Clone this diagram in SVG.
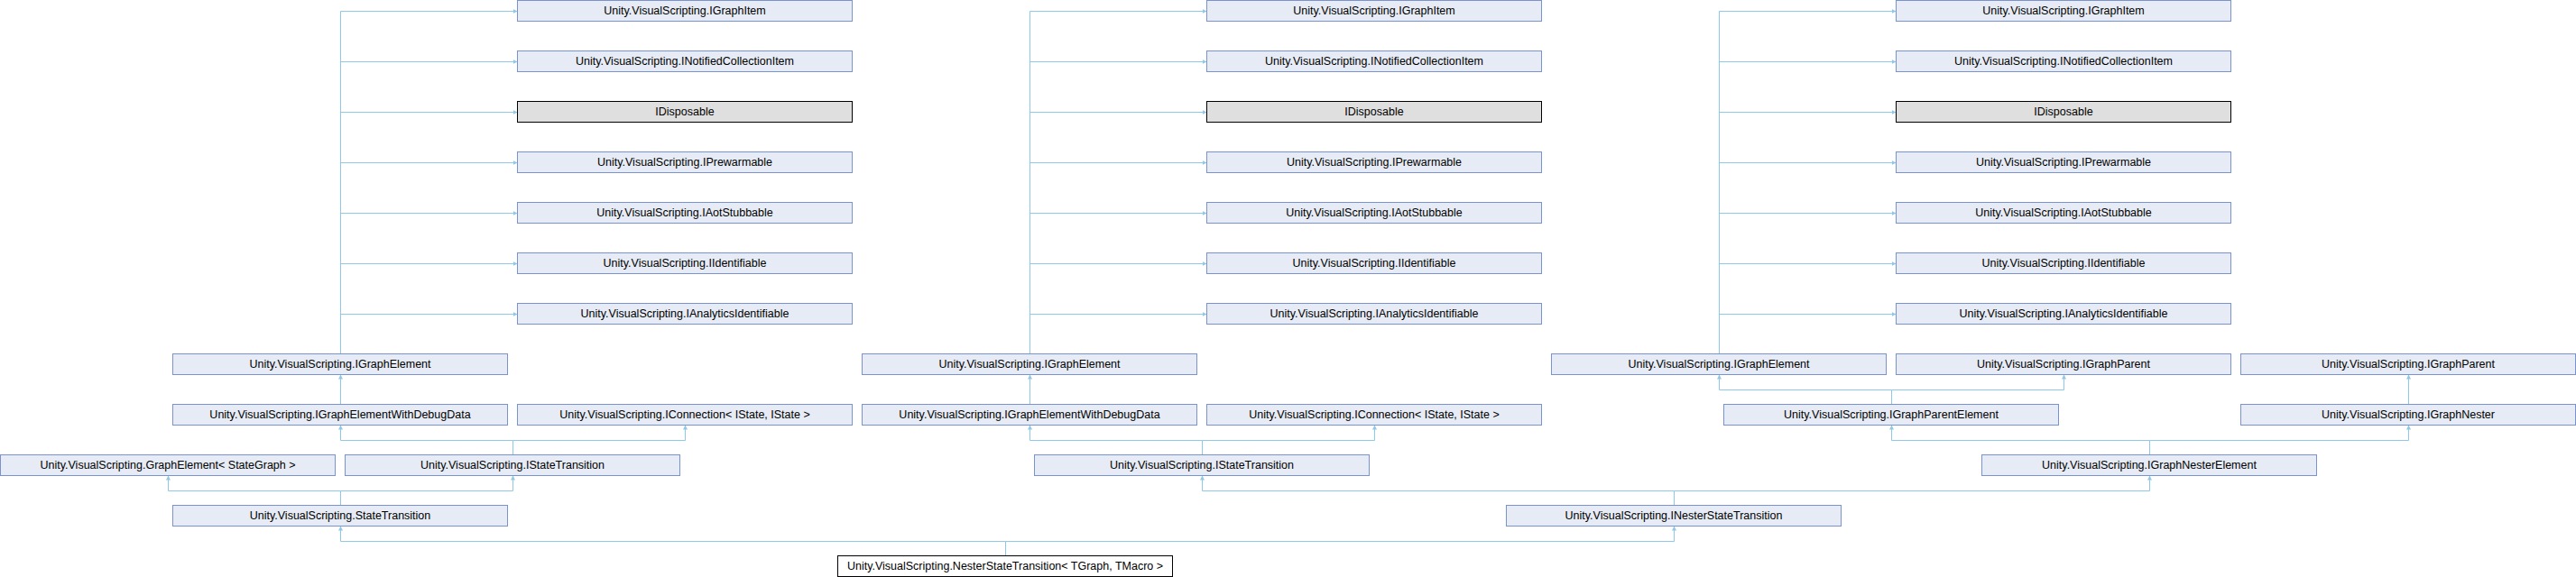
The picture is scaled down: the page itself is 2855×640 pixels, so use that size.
<svg xmlns="http://www.w3.org/2000/svg" width="2855" height="640" viewBox="0 0 2855 640">
<style>
  .bg{fill:#ffffff}
  .n rect{fill:#E6EBF5;stroke:#7B93CB;stroke-width:1}
  .n.ext rect{fill:#DFDFDF;stroke:#000000}
  .n.cur rect{fill:#ffffff;stroke:#000000}
  .n text{font-family:"Liberation Sans",Arial,sans-serif;font-size:12.5px;fill:#000000;text-anchor:middle}
  #connectors path{fill:none;stroke:#8FC9EA;stroke-width:1}
  #connectors path.a{marker-end:url(#arr)}
</style>
<defs>
  <marker id="arr" markerUnits="userSpaceOnUse" markerWidth="6" markerHeight="6" refX="5" refY="2.5" orient="auto">
    <path d="M0,0 L5,2.5 L0,5 z" fill="#8FC9EA"/>
  </marker>
</defs>
<rect class="bg" x="0" y="0" width="2855" height="640"/>

<g id="connectors">
  <!-- group 1 -->
  <path d="M377.5,392.5 V12.5"/>
  <path class="a" d="M377.5,12.5 H573.5"/>
  <path class="a" d="M377.5,68.5 H573.5"/>
  <path class="a" d="M377.5,124.5 H573.5"/>
  <path class="a" d="M377.5,180.5 H573.5"/>
  <path class="a" d="M377.5,236.5 H573.5"/>
  <path class="a" d="M377.5,292.5 H573.5"/>
  <path class="a" d="M377.5,348.5 H573.5"/>
  <path class="a" d="M377.5,448.5 V415.5"/>
  <path d="M568.5,504.5 V488.5"/>
  <path class="a" d="M568.5,488.5 H377.5 V471.5"/>
  <path class="a" d="M568.5,488.5 H759.5 V471.5"/>
  <path d="M377.5,560.5 V544.5"/>
  <path class="a" d="M377.5,544.5 H186.5 V527.5"/>
  <path class="a" d="M377.5,544.5 H568.5 V527.5"/>
  <path d="M1114.5,616.5 V600.5"/>
  <path class="a" d="M1114.5,600.5 H377.5 V583.5"/>
  <path class="a" d="M1114.5,600.5 H1855.5 V583.5"/>
  <!-- group 2 -->
  <path d="M1141.5,392.5 V12.5"/>
  <path class="a" d="M1141.5,12.5 H1337.5"/>
  <path class="a" d="M1141.5,68.5 H1337.5"/>
  <path class="a" d="M1141.5,124.5 H1337.5"/>
  <path class="a" d="M1141.5,180.5 H1337.5"/>
  <path class="a" d="M1141.5,236.5 H1337.5"/>
  <path class="a" d="M1141.5,292.5 H1337.5"/>
  <path class="a" d="M1141.5,348.5 H1337.5"/>
  <path class="a" d="M1141.5,448.5 V415.5"/>
  <path d="M1332.5,504.5 V488.5"/>
  <path class="a" d="M1332.5,488.5 H1141.5 V471.5"/>
  <path class="a" d="M1332.5,488.5 H1523.5 V471.5"/>
  <path d="M1855.5,560.5 V544.5"/>
  <path class="a" d="M1855.5,544.5 H1332.5 V527.5"/>
  <path class="a" d="M1855.5,544.5 H2382.5 V527.5"/>
  <!-- group 3 -->
  <path d="M1905.5,392.5 V12.5"/>
  <path class="a" d="M1905.5,12.5 H2101.5"/>
  <path class="a" d="M1905.5,68.5 H2101.5"/>
  <path class="a" d="M1905.5,124.5 H2101.5"/>
  <path class="a" d="M1905.5,180.5 H2101.5"/>
  <path class="a" d="M1905.5,236.5 H2101.5"/>
  <path class="a" d="M1905.5,292.5 H2101.5"/>
  <path class="a" d="M1905.5,348.5 H2101.5"/>
  <path d="M2096.5,448.5 V432.5"/>
  <path class="a" d="M2096.5,432.5 H1905.5 V415.5"/>
  <path class="a" d="M2096.5,432.5 H2287.5 V415.5"/>
  <path class="a" d="M2669.5,448.5 V415.5"/>
  <path d="M2382.5,504.5 V488.5"/>
  <path class="a" d="M2382.5,488.5 H2096.5 V471.5"/>
  <path class="a" d="M2382.5,488.5 H2669.5 V471.5"/>
</g>

<!-- group 1 nodes -->
<g id="g1_igraphitem" class="n"><rect x="573.5" y="0.5" width="371" height="23"/><text x="759" y="16">Unity.VisualScripting.IGraphItem</text></g>
<g id="g1_inotifiedcollectionitem" class="n"><rect x="573.5" y="56.5" width="371" height="23"/><text x="759" y="72">Unity.VisualScripting.INotifiedCollectionItem</text></g>
<g id="g1_idisposable" class="n ext"><rect x="573.5" y="112.5" width="371" height="23"/><text x="759" y="128">IDisposable</text></g>
<g id="g1_iprewarmable" class="n"><rect x="573.5" y="168.5" width="371" height="23"/><text x="759" y="184">Unity.VisualScripting.IPrewarmable</text></g>
<g id="g1_iaotstubbable" class="n"><rect x="573.5" y="224.5" width="371" height="23"/><text x="759" y="240">Unity.VisualScripting.IAotStubbable</text></g>
<g id="g1_iidentifiable" class="n"><rect x="573.5" y="280.5" width="371" height="23"/><text x="759" y="296">Unity.VisualScripting.IIdentifiable</text></g>
<g id="g1_ianalyticsidentifiable" class="n"><rect x="573.5" y="336.5" width="371" height="23"/><text x="759" y="352">Unity.VisualScripting.IAnalyticsIdentifiable</text></g>
<g id="g1_igraphelement" class="n"><rect x="191.5" y="392.5" width="371" height="23"/><text x="377" y="408">Unity.VisualScripting.IGraphElement</text></g>
<g id="g1_igraphelementwithdebugdata" class="n"><rect x="191.5" y="448.5" width="371" height="23"/><text x="377" y="464">Unity.VisualScripting.IGraphElementWithDebugData</text></g>
<g id="g1_iconnection" class="n"><rect x="573.5" y="448.5" width="371" height="23"/><text x="759" y="464">Unity.VisualScripting.IConnection&lt; IState, IState &gt;</text></g>
<g id="graphelement_stategraph" class="n"><rect x="0.5" y="504.5" width="371" height="23"/><text x="186" y="520">Unity.VisualScripting.GraphElement&lt; StateGraph &gt;</text></g>
<g id="g1_istatetransition" class="n"><rect x="382.5" y="504.5" width="371" height="23"/><text x="568" y="520">Unity.VisualScripting.IStateTransition</text></g>
<g id="statetransition" class="n"><rect x="191.5" y="560.5" width="371" height="23"/><text x="377" y="576">Unity.VisualScripting.StateTransition</text></g>
<g id="nesterstatetransition" class="n cur"><rect x="928.5" y="616.5" width="371" height="23"/><text x="1114" y="632">Unity.VisualScripting.NesterStateTransition&lt; TGraph, TMacro &gt;</text></g>

<!-- group 2 nodes -->
<g id="g2_igraphitem" class="n"><rect x="1337.5" y="0.5" width="371" height="23"/><text x="1523" y="16">Unity.VisualScripting.IGraphItem</text></g>
<g id="g2_inotifiedcollectionitem" class="n"><rect x="1337.5" y="56.5" width="371" height="23"/><text x="1523" y="72">Unity.VisualScripting.INotifiedCollectionItem</text></g>
<g id="g2_idisposable" class="n ext"><rect x="1337.5" y="112.5" width="371" height="23"/><text x="1523" y="128">IDisposable</text></g>
<g id="g2_iprewarmable" class="n"><rect x="1337.5" y="168.5" width="371" height="23"/><text x="1523" y="184">Unity.VisualScripting.IPrewarmable</text></g>
<g id="g2_iaotstubbable" class="n"><rect x="1337.5" y="224.5" width="371" height="23"/><text x="1523" y="240">Unity.VisualScripting.IAotStubbable</text></g>
<g id="g2_iidentifiable" class="n"><rect x="1337.5" y="280.5" width="371" height="23"/><text x="1523" y="296">Unity.VisualScripting.IIdentifiable</text></g>
<g id="g2_ianalyticsidentifiable" class="n"><rect x="1337.5" y="336.5" width="371" height="23"/><text x="1523" y="352">Unity.VisualScripting.IAnalyticsIdentifiable</text></g>
<g id="g2_igraphelement" class="n"><rect x="955.5" y="392.5" width="371" height="23"/><text x="1141" y="408">Unity.VisualScripting.IGraphElement</text></g>
<g id="g2_igraphelementwithdebugdata" class="n"><rect x="955.5" y="448.5" width="371" height="23"/><text x="1141" y="464">Unity.VisualScripting.IGraphElementWithDebugData</text></g>
<g id="g2_iconnection" class="n"><rect x="1337.5" y="448.5" width="371" height="23"/><text x="1523" y="464">Unity.VisualScripting.IConnection&lt; IState, IState &gt;</text></g>
<g id="g2_istatetransition" class="n"><rect x="1146.5" y="504.5" width="371" height="23"/><text x="1332" y="520">Unity.VisualScripting.IStateTransition</text></g>
<g id="inesterstatetransition" class="n"><rect x="1669.5" y="560.5" width="371" height="23"/><text x="1855" y="576">Unity.VisualScripting.INesterStateTransition</text></g>

<!-- group 3 nodes -->
<g id="g3_igraphitem" class="n"><rect x="2101.5" y="0.5" width="371" height="23"/><text x="2287" y="16">Unity.VisualScripting.IGraphItem</text></g>
<g id="g3_inotifiedcollectionitem" class="n"><rect x="2101.5" y="56.5" width="371" height="23"/><text x="2287" y="72">Unity.VisualScripting.INotifiedCollectionItem</text></g>
<g id="g3_idisposable" class="n ext"><rect x="2101.5" y="112.5" width="371" height="23"/><text x="2287" y="128">IDisposable</text></g>
<g id="g3_iprewarmable" class="n"><rect x="2101.5" y="168.5" width="371" height="23"/><text x="2287" y="184">Unity.VisualScripting.IPrewarmable</text></g>
<g id="g3_iaotstubbable" class="n"><rect x="2101.5" y="224.5" width="371" height="23"/><text x="2287" y="240">Unity.VisualScripting.IAotStubbable</text></g>
<g id="g3_iidentifiable" class="n"><rect x="2101.5" y="280.5" width="371" height="23"/><text x="2287" y="296">Unity.VisualScripting.IIdentifiable</text></g>
<g id="g3_ianalyticsidentifiable" class="n"><rect x="2101.5" y="336.5" width="371" height="23"/><text x="2287" y="352">Unity.VisualScripting.IAnalyticsIdentifiable</text></g>
<g id="g3_igraphelement" class="n"><rect x="1719.5" y="392.5" width="371" height="23"/><text x="1905" y="408">Unity.VisualScripting.IGraphElement</text></g>
<g id="igraphparent_a" class="n"><rect x="2101.5" y="392.5" width="371" height="23"/><text x="2287" y="408">Unity.VisualScripting.IGraphParent</text></g>
<g id="igraphparent_b" class="n"><rect x="2483.5" y="392.5" width="371" height="23"/><text x="2669" y="408">Unity.VisualScripting.IGraphParent</text></g>
<g id="igraphparentelement" class="n"><rect x="1910.5" y="448.5" width="371" height="23"/><text x="2096" y="464">Unity.VisualScripting.IGraphParentElement</text></g>
<g id="igraphnester" class="n"><rect x="2483.5" y="448.5" width="371" height="23"/><text x="2669" y="464">Unity.VisualScripting.IGraphNester</text></g>
<g id="igraphnesterelement" class="n"><rect x="2196.5" y="504.5" width="371" height="23"/><text x="2382" y="520">Unity.VisualScripting.IGraphNesterElement</text></g>
</svg>
